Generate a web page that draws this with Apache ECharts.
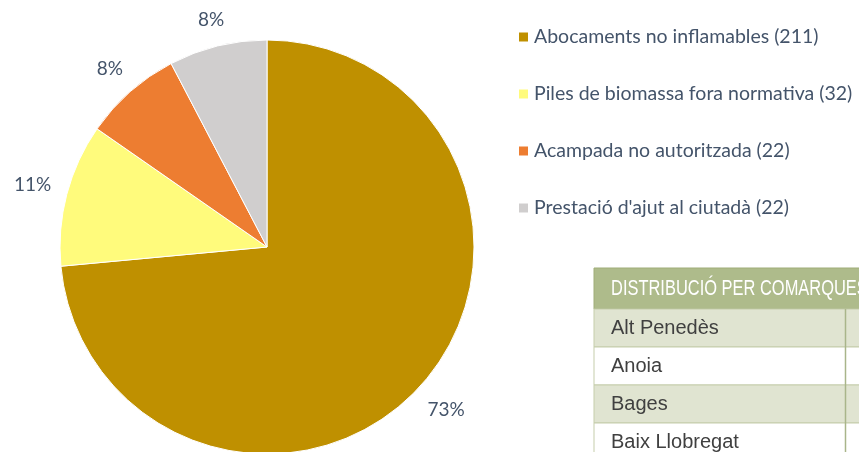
<!DOCTYPE html>
<html>
<head>
<meta charset="utf-8">
<script src="https://cdn.jsdelivr.net/npm/echarts@6/dist/echarts.min.js"></script>
<style>
  html, body { margin: 0; padding: 0; background: #fff; }
  #main { width: 859px; height: 452px; }
</style>
</head>
<body>
<div id="main"></div>
<script>
var categories = [
  'Abocaments no inflamables',
  'Piles de biomassa fora normativa',
  'Acampada no autoritzada',
  "Prestació d'ajut al ciutadà"
];
var counts = [211, 32, 22, 22];
var colors = ['#BF9000', '#FFFB7C', '#ED7D31', '#D0CECE'];
var tableTitle = 'DISTRIBUCIÓ PER COMARQUES';
var tableRows = ['Alt Penedès', 'Anoia', 'Bages', 'Baix Llobregat'];

var chartDom = document.getElementById('main');
var myChart = echarts.init(chartDom);

var CX = 267, CY = 247, R = 207;

var pieData = categories.map(function (name, i) {
  return { name: name, value: counts[i], itemStyle: { color: colors[i] } };
});
var countByName = {};
categories.forEach(function (name, i) { countByName[name] = counts[i]; });

// table in the lower right corner
var tableGraphics = [];
var tx = 594, ty = 268, headH = 41, rowH = 38;
tableGraphics.push({
  type: 'rect',
  shape: { x: tx, y: ty, width: 300, height: headH },
  style: { fill: '#AEBB8B', stroke: '#9FAD78', lineWidth: 1 }
});
tableGraphics.push({
  type: 'text',
  x: 611, y: ty + headH / 2 + 1,
  scaleX: 0.765,
  style: {
    text: tableTitle, fill: '#fff', fontSize: 21.5,
    fontFamily: '"Liberation Sans", Arial, sans-serif',
    verticalAlign: 'middle'
  }
});
tableRows.forEach(function (name, i) {
  var y = ty + headH + i * rowH;
  tableGraphics.push({
    type: 'rect',
    shape: { x: tx, y: y, width: 300, height: rowH },
    style: { fill: i % 2 === 0 ? '#E0E4D1' : '#fff', stroke: '#C5CDAB', lineWidth: 1 }
  });
  tableGraphics.push({
    type: 'text',
    x: 611, y: y + rowH / 2,
    style: {
      text: name, fill: '#404040', fontSize: 20,
      fontFamily: '"Liberation Sans", Arial, sans-serif',
      verticalAlign: 'middle'
    }
  });
});
tableGraphics.push({
  type: 'line',
  shape: { x1: 845.5, y1: ty + headH, x2: 845.5, y2: 452 },
  style: { stroke: '#A9B58A', lineWidth: 1.5 }
});

myChart.setOption({
  animation: false,
  legend: {
    orient: 'vertical',
    left: 517,
    top: 27,
    padding: 0,
    icon: 'rect',
    itemWidth: 11,
    itemHeight: 11,
    itemGap: 37,
    data: categories.map(function (name, i) {
      return { name: name, itemStyle: { color: colors[i] } };
    }),
    formatter: function (name) {
      return name + ' (' + countByName[name] + ')';
    },
    textStyle: {
      color: '#44546A',
      fontSize: 19.5,
      lineHeight: 20,
      fontFamily: 'Lato, sans-serif'
    }
  },
  graphic: tableGraphics,
  series: [
    {
      type: 'pie',
      center: [CX, CY],
      radius: R,
      startAngle: 90,
      clockwise: true,
      percentPrecision: 0,
      label: { show: false },
      labelLine: { show: false },
      itemStyle: { borderColor: '#fff', borderWidth: 1 },
      data: pieData
    },
    {
      // transparent ring that only carries the percentage labels
      type: 'pie',
      center: [CX, CY],
      radius: [226, 250],
      startAngle: 90,
      clockwise: true,
      silent: true,
      percentPrecision: 0,
      itemStyle: { color: 'rgba(0,0,0,0)' },
      emphasis: { disabled: true },
      label: {
        show: true,
        position: 'inside',
        formatter: '{d}%',
        color: '#44546A',
        fontSize: 19,
        fontFamily: 'Lato, sans-serif'
      },
      labelLine: { show: false },
      // push each label so its box sits just outside the pie edge
      labelLayout: function (params) {
        var r = params.labelRect;
        var lx = r.x + r.width / 2, ly = r.y + r.height / 2;
        var dx = lx - CX, dy = ly - CY;
        var len = Math.sqrt(dx * dx + dy * dy);
        var ux = dx / len, uy = dy / len;
        var d = R + 15 + Math.abs(ux) * r.width / 2 + Math.abs(uy) * r.height / 2;
        return { x: CX + ux * d, y: CY + uy * d };
      },
      data: categories.map(function (name, i) {
        return { name: name, value: counts[i] };
      })
    }
  ]
});
</script>
</body>
</html>
